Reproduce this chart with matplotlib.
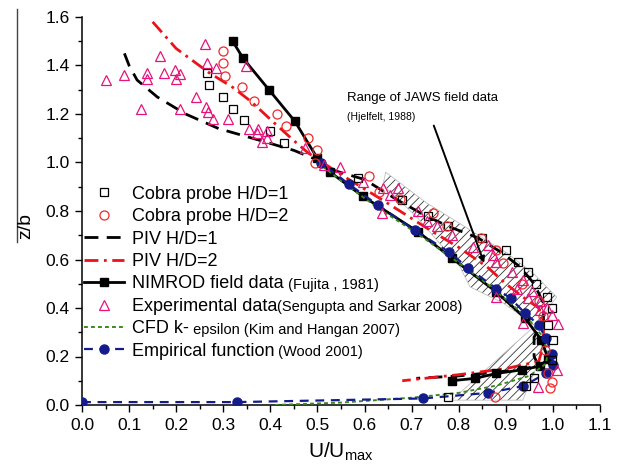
import matplotlib
matplotlib.use("Agg")
import matplotlib.pyplot as plt
from matplotlib.lines import Line2D
from matplotlib.ticker import MultipleLocator
import numpy as np

plt.rcParams['font.family'] = ['Liberation Sans', 'DejaVu Sans']
plt.rcParams['mathtext.fontset'] = 'custom'
plt.rcParams['mathtext.rm'] = 'Liberation Sans'
plt.rcParams['hatch.linewidth'] = 0.6

# cobra probe, H/D=1
cobra1_u = [0.265, 0.27, 0.30, 0.32, 0.345, 0.40, 0.43, 0.586, 0.68, 0.735, 0.777, 0.85, 0.90,
            0.925, 0.947, 0.964, 0.987, 0.998, 0.99, 1.0, 0.998, 0.96, 0.943, 0.777]
cobra1_z = [1.37, 1.32, 1.27, 1.22, 1.175, 1.13, 1.08, 0.935, 0.845, 0.78, 0.74, 0.69, 0.64,
            0.59, 0.55, 0.50, 0.445, 0.40, 0.33, 0.27, 0.185, 0.11, 0.08, 0.033]
# cobra probe, H/D=2
cobra2_u = [0.30, 0.30, 0.304, 0.34, 0.365, 0.415, 0.433, 0.48, 0.50, 0.495, 0.61, 0.63, 0.675,
            0.745, 0.775, 0.847, 0.88, 0.894, 0.934, 0.97, 0.98, 0.983, 0.99, 0.998, 0.994, 0.877]
cobra2_z = [1.46, 1.41, 1.357, 1.31, 1.255, 1.20, 1.15, 1.10, 1.05, 1.0, 0.945, 0.88, 0.85,
            0.79, 0.74, 0.69, 0.64, 0.585, 0.50, 0.43, 0.365, 0.227, 0.13, 0.095, 0.07, 0.033]
# PIV profiles
piv1_u = [0.09, 0.10, 0.117, 0.16, 0.22, 0.29, 0.38, 0.45, 0.50, 0.53, 0.60, 0.67, 0.73, 0.78,
          0.84, 0.89, 0.93, 0.96, 0.98, 0.98, 0.96, 0.96, 0.97, 0.90, 0.80, 0.71]
piv1_z = [1.45, 1.40, 1.34, 1.27, 1.20, 1.14, 1.09, 1.05, 1.01, 0.97, 0.93, 0.845, 0.78, 0.735,
          0.69, 0.63, 0.57, 0.50, 0.42, 0.35, 0.28, 0.20, 0.16, 0.14, 0.12, 0.11]
piv2_u = [0.15, 0.20, 0.27, 0.32, 0.36, 0.41, 0.45, 0.48, 0.55, 0.63, 0.675, 0.74, 0.80, 0.86,
          0.90, 0.94, 0.97, 0.98, 0.98, 0.97, 0.90, 0.80, 0.68]
piv2_z = [1.58, 1.47, 1.37, 1.31, 1.25, 1.16, 1.09, 1.04, 0.95, 0.855, 0.80, 0.72, 0.65, 0.57,
          0.50, 0.44, 0.40, 0.33, 0.25, 0.18, 0.15, 0.125, 0.10]
# NIMROD (Fujita 1981)
nimrod_u = [0.32, 0.342, 0.397, 0.452, 0.499, 0.527, 0.597, 0.713, 0.786, 0.88, 0.94, 0.975,
            0.99, 0.972, 0.934, 0.88, 0.835, 0.785]
nimrod_z = [1.50, 1.43, 1.30, 1.17, 1.02, 0.96, 0.86, 0.715, 0.605, 0.466, 0.36, 0.27,
            0.19, 0.16, 0.145, 0.13, 0.11, 0.10]
# Sengupta and Sarkar 2008
exp_u = [0.05, 0.09, 0.125, 0.138, 0.138, 0.166, 0.175, 0.197, 0.20, 0.208, 0.208, 0.242,
         0.261, 0.265, 0.263, 0.268, 0.278, 0.285, 0.31, 0.348, 0.355, 0.374, 0.371, 0.382,
         0.393, 0.393, 0.473, 0.514, 0.548, 0.597, 0.64, 0.654, 0.67, 0.637, 0.713, 0.733,
         0.754, 0.786, 0.83, 0.862, 0.873, 0.88, 0.913, 0.936, 0.88, 0.923, 0.947, 0.955,
         0.972, 0.998, 1.01, 0.936, 0.972, 0.987, 1.008, 0.968]
exp_z = [1.34, 1.36, 1.22, 1.37, 1.345, 1.44, 1.37, 1.38, 1.345, 1.365, 1.22, 1.27,
         1.49, 1.41, 1.23, 1.21, 1.18, 1.39, 1.18, 1.40, 1.14, 1.14, 1.12, 1.085,
         1.13, 1.10, 1.06, 0.99, 0.98, 0.92, 0.895, 0.865, 0.895, 0.79, 0.80, 0.76,
         0.74, 0.70, 0.65, 0.66, 0.62, 0.59, 0.55, 0.515, 0.445, 0.48, 0.44, 0.47,
         0.43, 0.37, 0.335, 0.34, 0.39, 0.40, 0.145, 0.075]
# CFD k-epsilon (Kim and Hangan 2007)
cfd_u = [0.41, 0.55, 0.70, 0.80, 0.88, 0.95, 0.985, 0.99, 0.975, 0.95, 0.91, 0.86, 0.79,
         0.71, 0.63, 0.56, 0.50]
cfd_z = [0.0, 0.01, 0.03, 0.05, 0.08, 0.12, 0.17, 0.22, 0.29, 0.35, 0.42, 0.50, 0.60,
         0.71, 0.81, 0.91, 1.0]
# Wood 2001 empirical profile
wood_u = [0.0, 0.33, 0.724, 0.862, 0.937, 0.985, 1.0, 0.998, 0.985, 0.97, 0.94, 0.91, 0.88,
          0.82, 0.78, 0.707, 0.628, 0.567, 0.507]
wood_z = [0.012, 0.012, 0.027, 0.05, 0.078, 0.13, 0.165, 0.21, 0.275, 0.33, 0.38, 0.44, 0.48,
          0.565, 0.63, 0.72, 0.825, 0.91, 1.0]
# JAWS range (Hjelfelt 1988)
jaws_band_u = [0.645, 0.732, 0.824, 0.902, 0.958, 1.008, 0.975, 0.958, 0.936, 0.894, 0.824,
               0.803, 0.711, 0.639]
jaws_band_z = [0.96, 0.833, 0.722, 0.627, 0.544, 0.445, 0.36, 0.33, 0.363, 0.421, 0.487,
               0.569, 0.775, 0.907]
jaws_fan_u = [0.958, 0.983, 0.936, 0.785]
jaws_fan_z = [0.32, 0.24, 0.02, 0.02]

labels = ['Cobra probe H/D=1', 'Cobra probe H/D=2', 'PIV H/D=1', 'PIV H/D=2',
          'NIMROD field data', 'Experimental data', 'CFD k-', 'Empirical function']
# smaller trailing text after each legend label
suffixes = ['', '', '', '', ' (Fujita , 1981)', '(Sengupta and Sarkar 2008)',
            ' epsilon (Kim and Hangan 2007)', ' (Wood 2001)']

fig = plt.figure(figsize=(6.29, 4.70), dpi=100)
ax = fig.add_axes([82 / 629, 65 / 470, 518 / 629, 388 / 470])

navy = '#141C8C'
pink = '#E4147C'
red = '#F0282A'

for pu, pz in [(jaws_band_u, jaws_band_z), (jaws_fan_u, jaws_fan_z)]:
    ax.fill(pu, pz, facecolor='none', edgecolor='#333333', hatch='////', lw=0, zorder=1)
    ax.fill(pu, pz, facecolor='none', edgecolor='#c0c0c0', lw=0.6, zorder=1)

ax.plot(cobra1_u, cobra1_z, ls='none', marker='s', ms=6, mfc='none', mec='k', mew=0.9,
        label=labels[0], zorder=4)
ax.plot(cobra2_u, cobra2_z, ls='none', marker='o', ms=6.5, mfc='none', mec=red, mew=0.9,
        label=labels[1], zorder=4)
ax.plot(piv1_u, piv1_z, color='k', lw=2.0, dashes=(5, 3), label=labels[2], zorder=3)
ax.plot(piv2_u, piv2_z, color='#E8141A', lw=2.0, dashes=(5, 2, 1, 2), label=labels[3], zorder=3)
ax.plot(nimrod_u, nimrod_z, color='k', lw=2.0, marker='s', ms=5.5, label=labels[4], zorder=3)
ax.plot(exp_u, exp_z, ls='none', marker='^', ms=7.5, mfc='none', mec=pink, mew=0.9,
        label=labels[5], zorder=4)
ax.plot(cfd_u, cfd_z, color='#3A8A1E', lw=1.4, dashes=(2, 1.6), label=labels[6], zorder=3)
ax.plot(wood_u, wood_z, color=navy, lw=1.6, dashes=(4, 3), marker='o', ms=6.5,
        label=labels[7], zorder=3)

ax.set_xlim(0, 1.1)
ax.set_ylim(0, 1.6)
ax.xaxis.set_major_locator(MultipleLocator(0.1))
ax.xaxis.set_minor_locator(MultipleLocator(0.05))
ax.yaxis.set_major_locator(MultipleLocator(0.2))
ax.yaxis.set_minor_locator(MultipleLocator(0.1))
ax.xaxis.set_major_formatter(plt.FormatStrFormatter('%.1f'))
ax.yaxis.set_major_formatter(plt.FormatStrFormatter('%.1f'))
ax.tick_params(which='major', direction='out', length=5, width=1, labelsize=12.5, pad=4)
ax.tick_params(which='minor', direction='out', length=3, width=1)
ax.spines['top'].set_visible(False)
ax.spines['right'].set_visible(False)
for s in ['left', 'bottom']:
    ax.spines[s].set_linewidth(1.1)

ax.set_xlabel(r'U/U$_{\rm max}$', fontsize=15, labelpad=6)
fig.text(26 / 629, 1 - 226 / 470, 'z/b', rotation=90, fontsize=14, ha='center', va='center')
fig.add_artist(Line2D([17 / 629, 17 / 629], [1 - 9 / 470, 1 - 242 / 470], color='#444444', lw=1.0))

leg = ax.legend(loc='upper left', bbox_to_anchor=(0.004, 0.565), frameon=False, fontsize=13,
                handlelength=2.2, handletextpad=0.45, labelspacing=0.3, borderpad=0,
                borderaxespad=0, numpoints=1)

# place the small suffix text right after each legend label
fig.canvas.draw()
inv = ax.transAxes.inverted()
for t, suf in zip(leg.get_texts(), suffixes):
    if suf:
        bb = t.get_window_extent()
        x0, y0 = inv.transform((bb.x1, bb.y0 + 0.22 * bb.height))
        ax.text(x0, y0, suf, transform=ax.transAxes, ha='left', va='baseline', fontsize=10.5)

ax.annotate('', xy=(0.856, 0.575), xytext=(0.745, 1.163),
            arrowprops=dict(arrowstyle='-|>', color='k', lw=1.4, mutation_scale=9), zorder=6)
ax.text(0.563, 1.266, 'Range of JAWS field data', fontsize=9.5, ha='left', va='center')
ax.text(0.563, 1.188, '(Hjelfelt, 1988)', fontsize=7.5, ha='left', va='center')

fig.savefig('out.png', dpi=100)
